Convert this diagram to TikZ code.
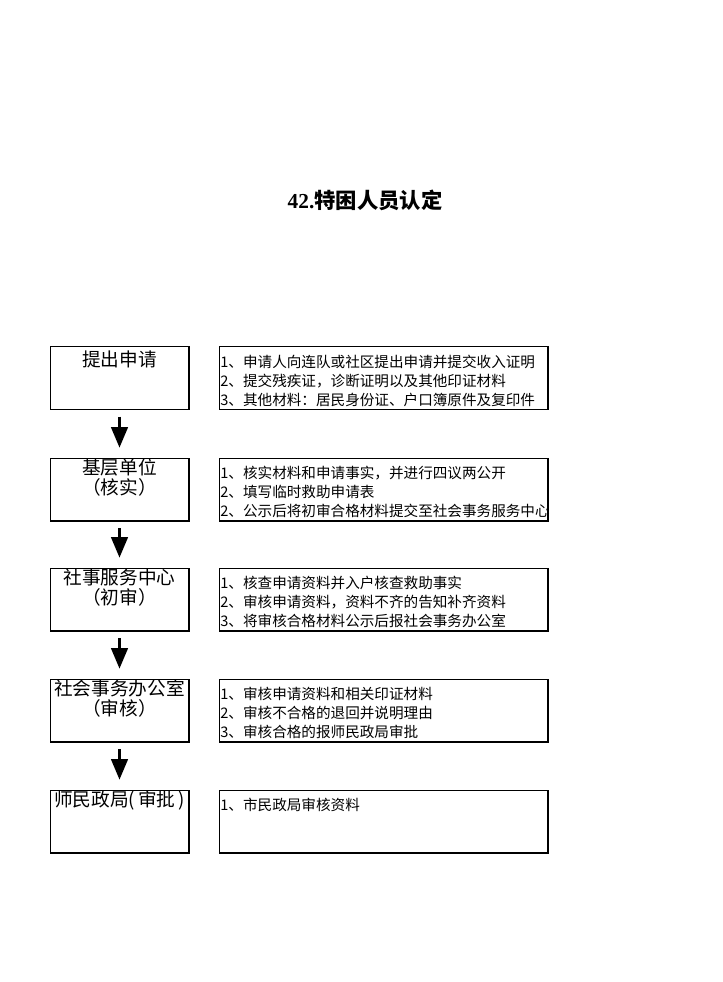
\documentclass[tikz,border=0pt]{standalone}
\usepackage{fontspec}
\setmainfont{Noto Sans CJK SC}
\newfontfamily\numfont{Liberation Serif}
\usepackage{tikz}
\usetikzlibrary{arrows,shapes}

\begin{document}
\begin{tikzpicture}[x=0.75pt,y=-0.75pt,
  stage/.style={draw,line width=1pt,minimum width=104pt,minimum height=47pt,inner sep=0pt},
  memo/.style={draw,line width=1pt,minimum width=246.5pt,minimum height=47pt,inner sep=0pt},
  stagetext/.style={anchor=north,inner sep=0pt,align=center,font=\fontsize{14}{14.8}\selectfont},
  memotext/.style={anchor=north west,inner sep=0pt,align=left,font=\fontsize{10.95}{14.25}\selectfont},
  flow/.style={-triangle 45,line width=2.6pt,shorten <=5pt,shorten >=7.5pt}]
\useasboundingbox (0,0) rectangle (722,982);

\node (T) at (365,200) {\fontsize{16}{18}\selectfont\bfseries{\numfont 42.}特困人员认定};

\node (S1) at (119.5,378)[stage] {};
\node (S2) at (119.5,489.5)[stage] {};
\node (S3) at (119.5,599.5)[stage] {};
\node (S4) at (119.5,710.5)[stage] {};
\node (S5) at (119.5,821.5)[stage] {};
\node (M1) at (383.5,378)[memo] {};
\node (M2) at (383.5,489.5)[memo] {};
\node (M3) at (383.5,599.5)[memo] {};
\node (M4) at (383.5,710.5)[memo] {};
\node (M5) at (383.5,821.5)[memo] {};

\node (S1t) at ([yshift=-3.4pt]S1.north)[stagetext] {提出申请};
\node (S2t) at ([yshift=-0.6pt]S2.north)[stagetext] {基层单位\\（核实）};
\node (S3t) at ([yshift=-0.6pt]S3.north)[stagetext] {社事服务中心\\（初审）};
\node (S4t) at ([yshift=-0.6pt]S4.north)[stagetext] {社会事务办公室\\（审核）};
\node (S5t) at ([yshift=-0.6pt]S5.north)[stagetext] {师民政局(\,审批\,)};

\node (M1t) at ([xshift=1.2pt,yshift=-6.5pt]M1.north west)[memotext] {1、申请人向连队或社区提出申请并提交收入证明\\2、提交残疾证，诊断证明以及其他印证材料\\3、其他材料：居民身份证、户口簿原件及复印件};
\node (M2t) at ([xshift=1.2pt,yshift=-6.5pt]M2.north west)[memotext] {1、核实材料和申请事实，并进行四议两公开\\2、填写临时救助申请表\\2、公示后将初审合格材料提交至社会事务服务中心};
\node (M3t) at ([xshift=1.2pt,yshift=-6.5pt]M3.north west)[memotext] {1、核查申请资料并入户核查救助事实\\2、审核申请资料，资料不齐的告知补齐资料\\3、将审核合格材料公示后报社会事务办公室};
\node (M4t) at ([xshift=1.2pt,yshift=-6.5pt]M4.north west)[memotext] {1、审核申请资料和相关印证材料\\2、审核不合格的退回并说明理由\\3、审核合格的报师民政局审批};
\node (M5t) at ([xshift=1.2pt,yshift=-6.5pt]M5.north west)[memotext] {1、市民政局审核资料};

\draw [flow] (S1) -- (S2);
\draw [flow] (S2) -- (S3);
\draw [flow] (S3) -- (S4);
\draw [flow] (S4) -- (S5);
\end{tikzpicture}
\end{document}
